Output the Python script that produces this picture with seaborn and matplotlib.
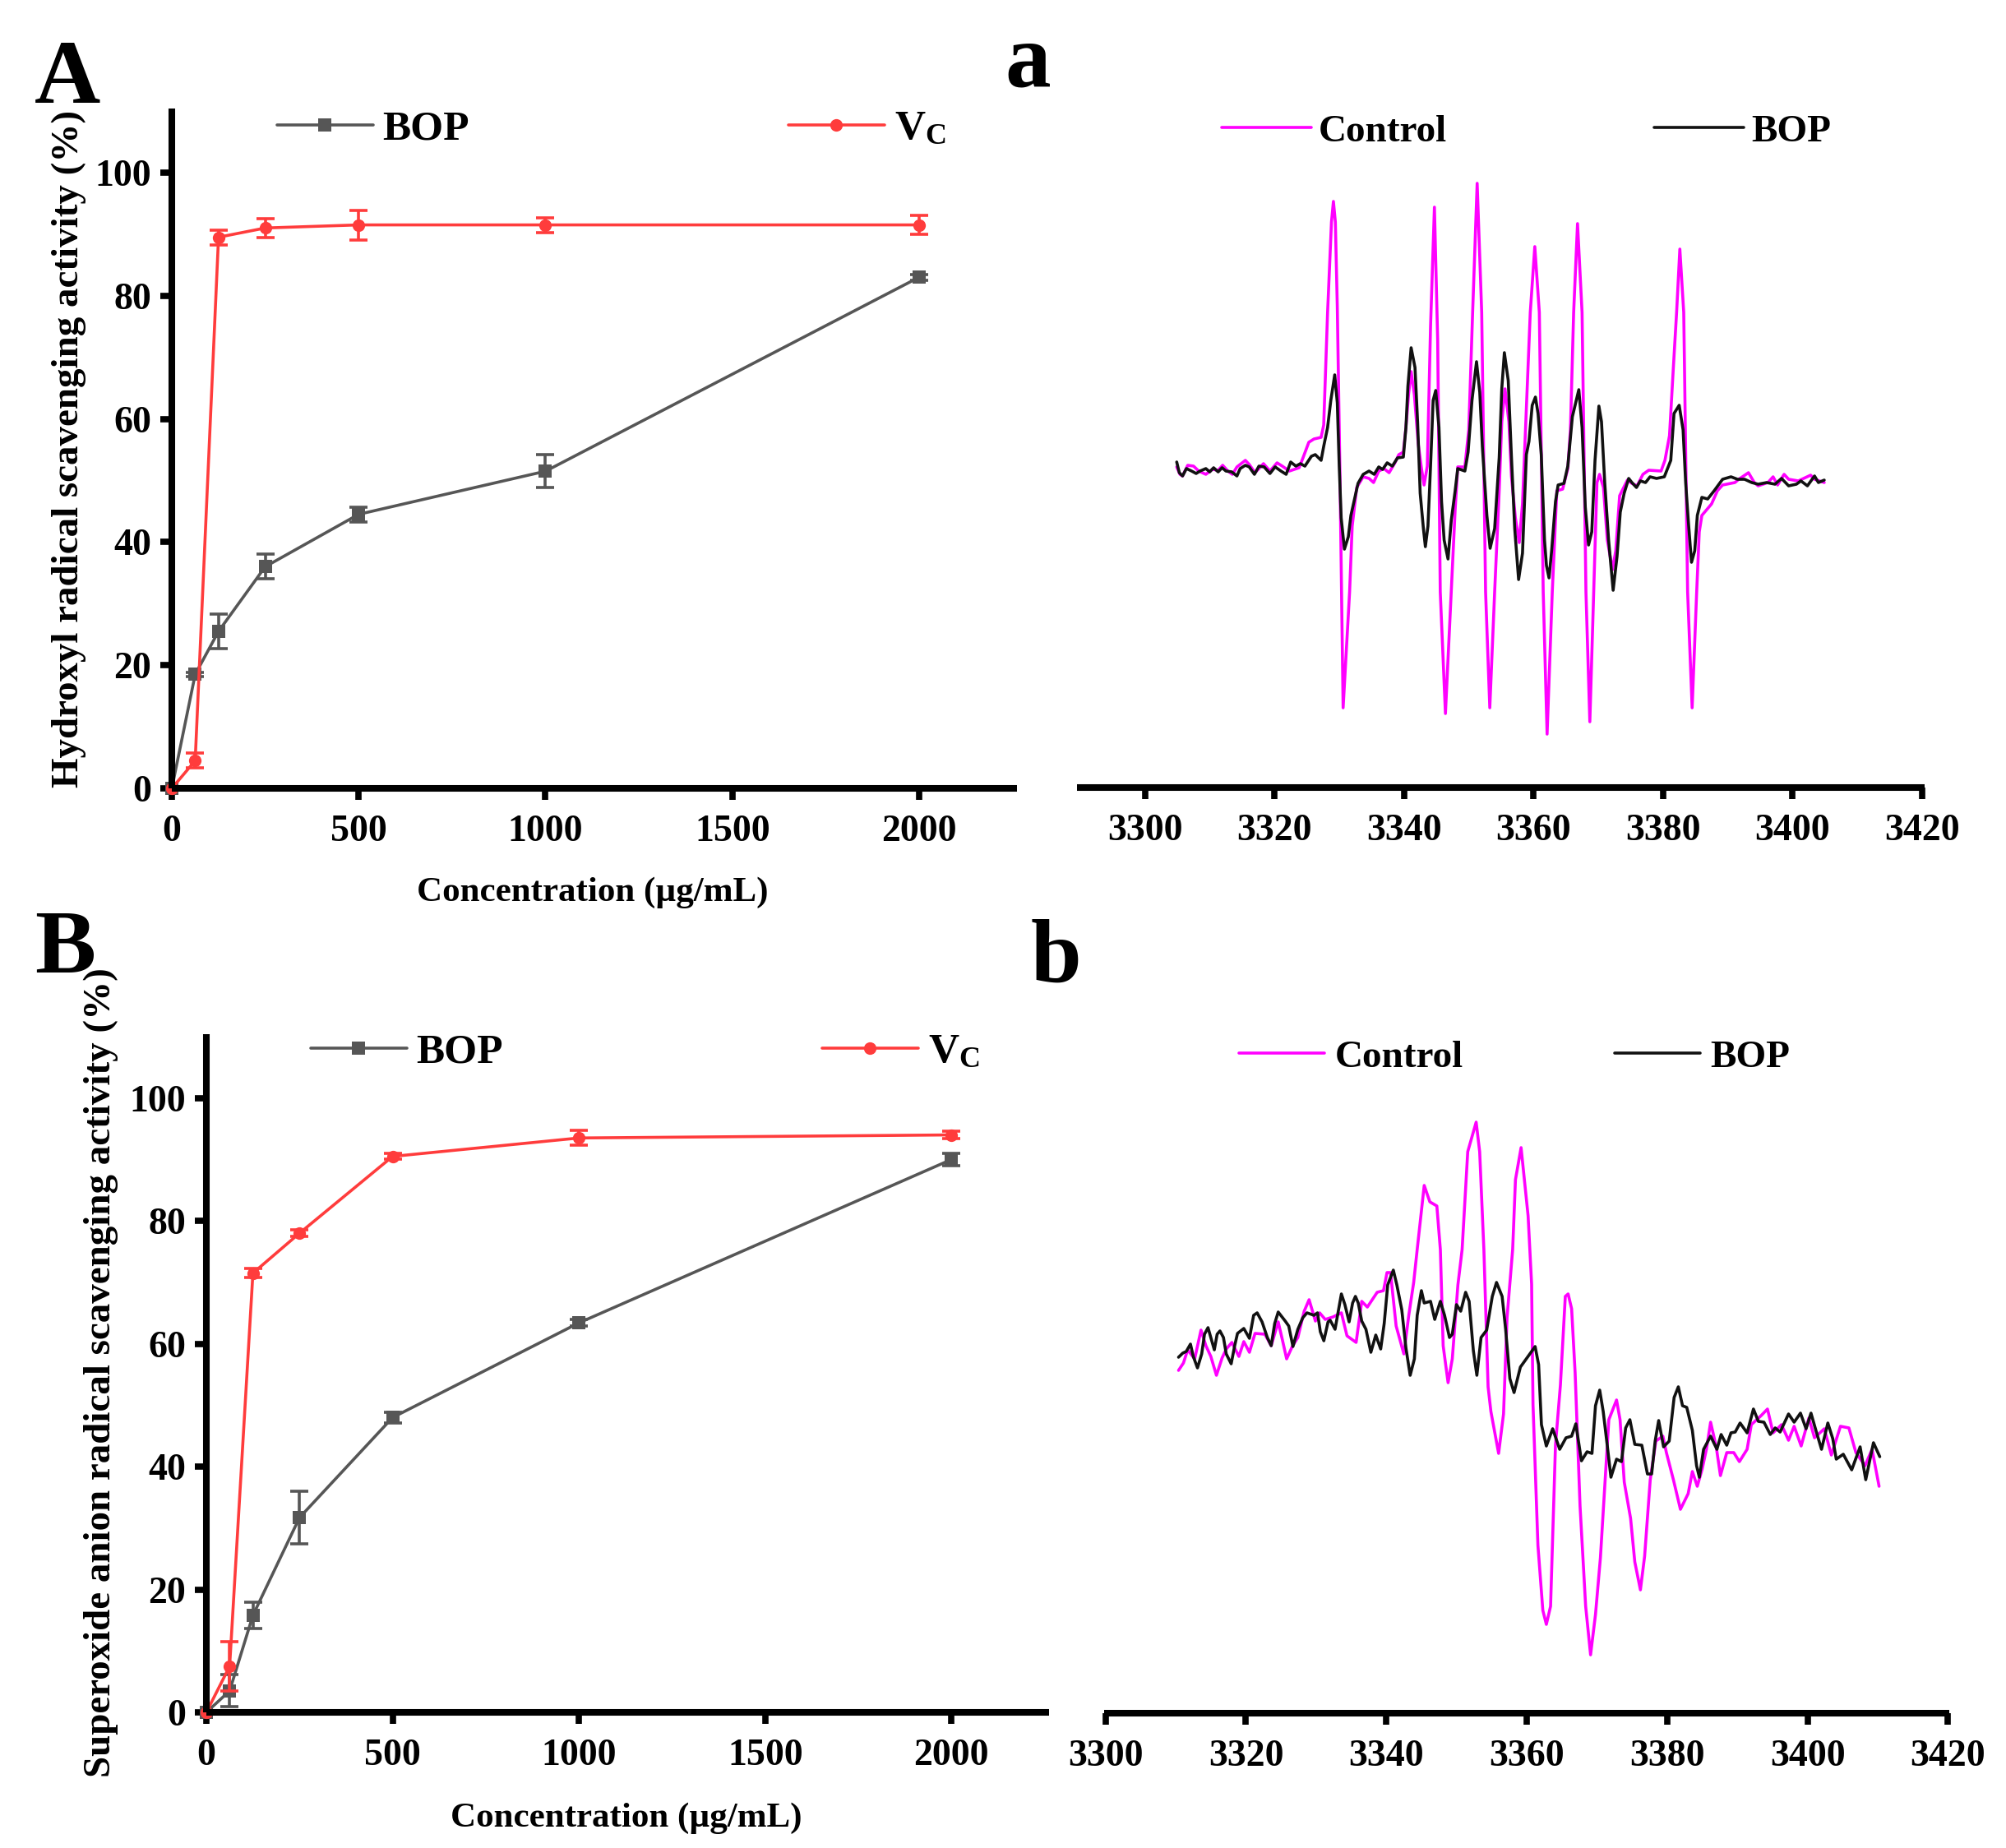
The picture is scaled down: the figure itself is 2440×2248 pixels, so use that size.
import matplotlib
matplotlib.use('Agg')
import matplotlib.pyplot as plt
import pandas as pd
import seaborn as sns

conc = [0, 62.5, 125, 250, 500, 1000, 2000]
a_bop = [0, 18.5, 25.5, 36, 44.5, 51.5, 83]
a_bop_err = [0, 0.3, 2.8, 2, 1.2, 2.7, 0.5]
a_vc = [0, 4.5, 89.5, 91, 91.5, 91.5, 91.5]
a_vc_err = [0, 1.2, 1.2, 1.5, 2.4, 1.2, 1.5]
b_bop = [0, 3.5, 15.8, 31.7, 48, 63.4, 90]
b_bop_err = [0, 2.6, 2.1, 4.3, 0.9, 0.5, 1]
b_vc = [0, 7.5, 71.5, 78, 90.5, 93.5, 94]
b_vc_err = [0, 4, 0.7, 0.5, 0.5, 1.2, 0.6]

# EPR spectrum a, field in G, intensity in arbitrary units
a_control_field = [
    3304.9, 3305.4, 3305.8, 3306.6, 3307.5, 3308.3, 3309.4, 3310.4, 3311.3, 3312.0, 3312.8, 3313.5, 3314.2,
    3315.5, 3316.1, 3317.0, 3318.3, 3319.3, 3320.4, 3321.2, 3322.3, 3323.8, 3324.4, 3325.3, 3326.1, 3327.2,
    3327.6, 3328.2, 3328.8, 3329.1, 3329.4, 3329.7, 3330.1, 3330.6, 3331.6, 3332.0, 3332.7, 3333.7, 3334.6,
    3335.3, 3336.1, 3336.9, 3337.7, 3338.6, 3339.2, 3339.9, 3340.3, 3340.7, 3341.1, 3341.6, 3342.2, 3342.7,
    3343.1, 3343.6, 3344.1, 3344.7, 3345.2, 3345.6, 3346.4, 3347.3, 3347.9, 3348.3, 3349.4, 3350.0, 3350.6,
    3351.3, 3352.0, 3352.6, 3353.25, 3354.0, 3354.7, 3355.1, 3355.6, 3356.2, 3356.6, 3357.2, 3357.8, 3358.3,
    3358.9, 3359.5, 3360.2, 3360.9, 3361.5, 3362.1, 3362.9, 3363.6, 3364.5, 3365.3, 3365.7, 3366.2, 3366.8,
    3367.5, 3368.1, 3368.7, 3369.3, 3369.8, 3370.2, 3370.8, 3371.4, 3372.2, 3372.7, 3373.3, 3374.5, 3375.2,
    3376.0, 3376.9, 3377.8, 3379.7, 3380.3, 3381.0, 3381.6, 3382.1, 3382.6, 3383.2, 3383.8, 3384.5, 3385.2,
    3385.6, 3386.0, 3387.5, 3388.4, 3389.2, 3391.1, 3391.7, 3393.2, 3394.1, 3394.7, 3396.2, 3397.0, 3397.7,
    3398.7, 3399.4, 3400.9, 3402.8, 3403.4, 3404.9]
a_control_int = [
    12, 3, 1, 14, 13, 7, 3, 9, 8, 14, 7, 3, 12,
    20, 15, 5, 16, 7, 17, 13, 7, 11, 23, 42, 46, 48,
    63, 200, 310, 335, 310, 207, 8, -281, -140, -60, -13, 0, -2,
    -7, 7, 10, 5, 17, 27, 30, 60, 100, 128, 100, 40, 10,
    -10, 13, 183, 328, 167, -140, -288, -140, -40, 12, 12, 57, 200,
    357, 200, -140, -281, -140, -17, 67, 107, 67, 0, -50, -80, -33,
    83, 200, 280, 200, -140, -313, -140, -17, -15, 10, 57, 200, 308,
    200, -140, -298, -140, -7, 3, -13, -77, -113, -90, -23, -4, -8,
    -11, 3, 8, 7, 20, 50, 133, 200, 277, 200, -140, -281, -140,
    -67, -47, -33, -17, -10, -7, -3, 5, -7, -11, -7, 0, -10,
    3, -3, -5, 2, -3, -7]
a_bop_field = [
    3304.9, 3305.3, 3305.8, 3306.4, 3307.2, 3307.9, 3308.5, 3309.4, 3310.0, 3310.6, 3311.3, 3311.9, 3312.5,
    3313.4, 3314.2, 3314.7, 3315.5, 3316.1, 3316.9, 3317.6, 3318.4, 3319.3, 3320.1, 3321.0, 3321.8, 3322.5,
    3323.3, 3324.0, 3324.7, 3325.7, 3326.3, 3327.2, 3327.6, 3328.2, 3328.7, 3329.3, 3329.7, 3330.0, 3330.3,
    3330.8, 3331.4, 3331.8, 3332.2, 3332.9, 3333.7, 3334.6, 3335.4, 3336.1, 3336.7, 3337.4, 3338.2, 3339.0,
    3339.9, 3340.3, 3340.6, 3341.1, 3341.7, 3342.1, 3342.5, 3343.0, 3343.3, 3343.7, 3344.1, 3344.5, 3344.9,
    3345.4, 3345.8, 3346.2, 3346.8, 3347.3, 3347.9, 3348.3, 3349.4, 3349.9, 3350.5, 3351.2, 3351.7, 3352.1,
    3352.8, 3353.3, 3354.0, 3354.7, 3355.1, 3355.5, 3356.1, 3356.6, 3357.1, 3357.7, 3358.3, 3358.9, 3359.3,
    3359.8, 3360.3, 3360.7, 3361.2, 3361.7, 3362.0, 3362.4, 3362.8, 3363.4, 3363.8, 3364.7, 3365.3, 3366.0,
    3367.0, 3367.5, 3368.0, 3368.5, 3369.0, 3369.5, 3370.1, 3370.5, 3371.0, 3371.6, 3372.3, 3372.9, 3373.4,
    3374.0, 3374.7, 3375.2, 3375.9, 3376.5, 3377.3, 3378.0, 3379.0, 3380.2, 3381.2, 3381.7, 3382.5, 3383.1,
    3383.5, 3383.9, 3384.4, 3384.9, 3385.3, 3386.0, 3386.9, 3387.9, 3389.2, 3390.5, 3391.5, 3392.6, 3393.7,
    3394.7, 3396.0, 3397.3, 3398.3, 3399.4, 3400.6, 3401.3, 3402.3, 3403.4, 3404.0, 3404.9]
a_bop_int = [
    18, 5, 1, 10, 7, 4, 7, 10, 6, 11, 6, 11, 7,
    6, 1, 10, 14, 12, 3, 13, 12, 4, 12, 7, 3, 18,
    13, 16, 13, 25, 27, 20, 37, 60, 93, 124, 90, 13, -50,
    -88, -73, -47, -33, -8, 3, 7, 3, 12, 9, 17, 13, 23,
    24, 60, 110, 157, 133, 67, -20, -63, -85, -60, 13, 93, 105,
    60, -30, -77, -100, -53, -17, 10, 7, 30, 93, 140, 103, 37,
    -47, -87, -63, 23, 107, 151, 117, 23, -63, -125, -93, 27, 43,
    87, 97, 77, 27, -77, -108, -123, -90, -30, -10, -8, 13, 73,
    106, 60, -37, -83, -67, 20, 86, 67, -7, -77, -138, -97, -43,
    -20, -2, -7, -13, -5, -7, 0, -2, 0, 20, 77, 87, 57,
    -7, -53, -104, -90, -47, -25, -27, -17, -3, 0, -3, -3, -7,
    -9, -7, -9, -2, -11, -9, -5, -11, 1, -7, -4]

# EPR spectrum b
b_control_field = [
    3310.4, 3311.1, 3311.7, 3312.7, 3313.6, 3314.3, 3315.0, 3315.8, 3316.6, 3317.2, 3318.0, 3319.0, 3319.7,
    3320.5, 3321.3, 3322.7, 3323.6, 3324.6, 3325.2, 3325.8, 3326.6, 3327.4, 3328.3, 3329.0, 3329.9, 3330.5,
    3331.3, 3332.4, 3333.6, 3334.4, 3335.7, 3336.5, 3337.3, 3338.7, 3339.6, 3340.1, 3340.6, 3341.4, 3342.5,
    3343.2, 3343.9, 3344.4, 3345.4, 3346.2, 3347.2, 3347.7, 3348.1, 3348.8, 3349.4, 3350.2, 3350.8, 3351.6,
    3352.8, 3353.3, 3353.9, 3354.5, 3354.9, 3356.0, 3356.7, 3357.2, 3358.0, 3358.4, 3359.2, 3360.2, 3360.7,
    3360.9, 3361.6, 3362.3, 3362.8, 3363.4, 3364.1, 3364.8, 3365.5, 3365.9, 3366.4, 3366.9, 3367.6, 3368.4,
    3369.1, 3369.8, 3370.5, 3371.7, 3372.8, 3373.3, 3373.9, 3374.8, 3375.4, 3376.2, 3376.8, 3377.6, 3378.4,
    3379.4, 3379.9, 3380.9, 3381.9, 3383.0, 3383.6, 3384.3, 3385.0, 3385.6, 3386.2, 3387.0, 3387.6, 3388.5,
    3389.5, 3390.3, 3391.4, 3392.0, 3393.4, 3394.3, 3395.1, 3396.3, 3397.3, 3398.1, 3399.1, 3400.2, 3401.0,
    3402.4, 3403.4, 3404.7, 3405.9, 3406.9, 3408.2, 3409.2, 3410.2]
b_control_int = [
    33, 42, 58, 47, 82, 63, 50, 27, 48, 59, 67, 50, 68,
    55, 78, 77, 63, 92, 70, 47, 62, 73, 105, 119, 93, 103,
    95, 98, 103, 75, 67, 117, 110, 128, 130, 152, 152, 87, 53,
    100, 140, 180, 258, 238, 233, 180, 63, 18, 47, 137, 180, 299,
    335, 299, 180, 13, -17, -68, -20, 97, 180, 265, 304, 221, 138,
    -9, -180, -259, -276, -254, -58, 15, 123, 126, 108, 30, -132, -254,
    -313, -264, -195, -27, -3, -27, -103, -147, -200, -234, -193, -100, -53,
    -47, -67, -100, -136, -117, -90, -108, -87, -63, -30, -60, -95, -67,
    -67, -78, -63, -33, -22, -14, -43, -33, -52, -35, -59, -25, -49,
    -38, -70, -35, -37, -67, -83, -63, -108]
b_bop_field = [
    3310.4, 3311.0, 3311.5, 3312.1, 3312.5, 3313.1, 3313.7, 3314.1, 3314.6, 3315.0, 3315.5, 3315.9, 3316.3,
    3316.8, 3317.2, 3317.9, 3318.4, 3318.8, 3319.7, 3320.5, 3321.1, 3321.6, 3322.3, 3323.05, 3323.6, 3324.1,
    3324.6, 3325.6, 3326.1, 3326.7, 3327.4, 3328.1, 3328.7, 3329.7, 3330.2, 3330.6, 3331.1, 3331.7, 3332.0,
    3332.7, 3333.2, 3333.6, 3334.1, 3334.7, 3335.2, 3335.6, 3336.0, 3336.5, 3337.1, 3337.8, 3338.5, 3339.2,
    3339.7, 3340.2, 3341.0, 3341.5, 3342.2, 3342.8, 3343.4, 3344.0, 3344.4, 3345.0, 3345.4, 3346.3, 3346.9,
    3347.7, 3348.3, 3349.0, 3349.4, 3350.0, 3350.6, 3351.3, 3351.8, 3352.4, 3352.9, 3353.5, 3354.3, 3355.1,
    3355.7, 3356.5, 3357.0, 3357.6, 3358.2, 3359.1, 3361.2, 3361.7, 3362.1, 3362.8, 3363.7, 3364.7, 3365.6,
    3366.4, 3367.0, 3367.8, 3368.6, 3369.3, 3369.8, 3370.4, 3370.9, 3371.5, 3372.0, 3372.8, 3373.5, 3374.1,
    3374.7, 3375.4, 3376.4, 3377.2, 3377.8, 3378.3, 3378.8, 3379.5, 3380.3, 3381.0, 3381.6, 3382.2, 3382.8,
    3383.6, 3384.2, 3384.6, 3385.2, 3386.2, 3387.1, 3387.7, 3388.5, 3389.1, 3389.7, 3390.4, 3391.4, 3392.3,
    3393.0, 3393.8, 3394.7, 3395.4, 3396.1, 3397.3, 3398.1, 3399.0, 3399.8, 3400.5, 3401.2, 3402.0, 3402.9,
    3403.6, 3404.1, 3405.1, 3406.3, 3407.5, 3408.3, 3409.4, 3410.3]
b_bop_int = [
    49, 54, 56, 65, 50, 36, 53, 77, 85, 73, 58, 77, 81,
    73, 53, 41, 63, 78, 84, 72, 100, 103, 92, 73, 63, 90,
    104, 93, 87, 62, 83, 97, 103, 100, 103, 80, 69, 92, 94,
    83, 107, 126, 113, 92, 115, 123, 115, 93, 83, 55, 76, 59,
    90, 137, 155, 137, 107, 60, 27, 47, 100, 130, 115, 117, 95,
    117, 100, 73, 77, 113, 105, 128, 117, 57, 27, 73, 82, 123,
    140, 123, 83, 23, 6, 37, 62, 40, -33, -59, -38, -63, -49,
    -47, -32, -77, -66, -68, -10, 9, -17, -60, -97, -75, -78, -37,
    -27, -57, -58, -93, -93, -53, -28, -60, -53, 0, 13, -10, -12,
    -40, -83, -97, -63, -47, -63, -45, -58, -43, -42, -31, -43, -14,
    -29, -30, -45, -37, -42, -20, -30, -19, -38, -19, -40, -63, -31,
    -50, -75, -69, -88, -60, -100, -55, -72]

conc_ticks = [0, 500, 1000, 1500, 2000]
activity_ticks = [0, 20, 40, 60, 80, 100]
field_ticks = [3300, 3320, 3340, 3360, 3380, 3400, 3420]

GRAY = '#565656'
RED = '#ff3c3c'
MAGENTA = '#ff00ff'
W, H = 2440, 2248

sns.set_theme(style='ticks')
plt.rcParams['font.family'] = ['Liberation Serif', 'DejaVu Sans']
plt.rcParams['font.weight'] = 'bold'
plt.rcParams['text.color'] = 'black'
plt.rcParams['axes.edgecolor'] = 'black'
plt.rcParams['xtick.color'] = 'black'
plt.rcParams['ytick.color'] = 'black'
plt.rcParams['xtick.labelcolor'] = 'black'
plt.rcParams['ytick.labelcolor'] = 'black'
plt.rcParams['mathtext.fontset'] = 'custom'
plt.rcParams['mathtext.bf'] = 'Liberation Serif:bold'
plt.rcParams['mathtext.rm'] = 'Liberation Serif:bold'

fig = plt.figure(figsize=(W / 100, H / 100), dpi=100)


def axes_px(left, top, right, bottom):
    ax = fig.add_axes([left / W, 1 - bottom / H, (right - left) / W, (bottom - top) / H])
    ax.patch.set_alpha(0)
    return ax


def text_px(x, y, s, **kw):
    fig.text(x / W, 1 - y / H, s, **kw)


def legend_px(ax, x, y, size, hlen, pad, gap):
    ax.legend(loc='center left', bbox_to_anchor=(x / W, 1 - y / H), bbox_transform=fig.transFigure,
              ncol=2, frameon=False, fontsize=size, handlelength=hlen, handletextpad=pad,
              columnspacing=gap, borderpad=0, borderaxespad=0)


def style_axis(ax, left_spine):
    sns.despine(ax=ax, left=not left_spine)
    for side in ['left', 'bottom']:
        ax.spines[side].set_linewidth(5.8)
        ax.spines[side].set_capstyle('butt')
    ax.tick_params(axis='x', length=10, width=5.5, labelsize=33, pad=13)
    ax.tick_params(axis='y', length=10, width=5.5, labelsize=33, pad=8)
    if not left_spine:
        ax.set_yticks([])
    for lab in ax.get_xticklabels() + ax.get_yticklabels():
        lab.set_fontweight('bold')


def activity_panel(ax, bop, bop_err, vc, vc_err):
    df = pd.DataFrame({'conc': conc, 'BOP': bop, 'VC': vc})
    sns.lineplot(data=df, x='conc', y='BOP', ax=ax, color=GRAY, lw=2.6, marker='s', ms=11, mew=0,
                 estimator=None, label='BOP', clip_on=False)
    ax.errorbar(conc[1:], bop[1:], yerr=bop_err[1:], fmt='none', ecolor=GRAY, elinewidth=2.6, capsize=8, capthick=2.6)
    sns.lineplot(data=df, x='conc', y='VC', ax=ax, color=RED, lw=2.6, marker='o', ms=11, mew=0,
                 estimator=None, label=r'$\mathbf{V_C}$', clip_on=False)
    ax.errorbar(conc[1:], vc[1:], yerr=vc_err[1:], fmt='none', ecolor=RED, elinewidth=2.6, capsize=8, capthick=2.6)
    ax.set_xlim(0, 2262)
    ax.set_ylim(0, 110.4)
    ax.set_xticks(conc_ticks)
    ax.set_yticks(activity_ticks)
    ax.set_xlabel('')
    ax.set_ylabel('')
    style_axis(ax, True)


def spectrum_panel(ax, c_field, c_int, b_field, b_int, xlim, ylim):
    sns.lineplot(x=c_field, y=c_int, ax=ax, color=MAGENTA, lw=2.6, estimator=None, label='Control',
                 solid_joinstyle='round')
    sns.lineplot(x=b_field, y=b_int, ax=ax, color='#111111', lw=2.6, estimator=None, label='BOP',
                 solid_joinstyle='round')
    ax.set_xlim(*xlim)
    ax.set_ylim(*ylim)
    ax.set_xticks(field_ticks)
    style_axis(ax, False)


# Panel A
ax_a = axes_px(209, 132, 1237, 959)
activity_panel(ax_a, a_bop, a_bop_err, a_vc, a_vc_err)
legend_px(ax_a, 337, 157, 37, 2.27, 0.23, 7.55)

# Panel B
ax_b = axes_px(251, 1258, 1276, 2083)
activity_panel(ax_b, b_bop, b_bop_err, b_vc, b_vc_err)
legend_px(ax_b, 378, 1280, 37, 2.27, 0.23, 7.55)

# Panel a
ax_c = axes_px(1310, 130, 2341, 958)
spectrum_panel(ax_c, a_control_field, a_control_int, a_bop_field, a_bop_int, (3289.5, 3420.4), (-378, 450))
legend_px(ax_c, 1486, 160, 34, 2.3, 0.19, 5.35)

# Panel b
ax_d = axes_px(1343, 1250, 2371, 2084)
spectrum_panel(ax_d, b_control_field, b_control_int, b_bop_field, b_bop_int, (3299.8, 3420.2), (-384, 450))
legend_px(ax_d, 1507, 1286, 34, 2.2, 0.27, 3.9)

# Axis titles and panel letters
label_kw = dict(fontsize=31, fontweight='bold', ha='center', va='center')
text_px(721, 1086, 'Concentration (µg/mL)', **label_kw)
text_px(762, 2212, 'Concentration (µg/mL)', **label_kw)
ylabel_kw = dict(label_kw, fontsize=33.8, rotation=90)
text_px(84, 546, 'Hydroxyl radical scavenging activity (%)', **ylabel_kw)
text_px(123, 1670, 'Superoxide anion radical scavenging activity (%)', **ylabel_kw)

letter_kw = dict(fontsize=80, fontweight='bold', ha='left', va='baseline')
text_px(42, 125, 'A', **letter_kw)
text_px(1222, 104, 'a', **letter_kw)
text_px(42, 1183, 'B', **letter_kw)
text_px(1254, 1195, 'b', **letter_kw)

fig.savefig('out.png', dpi=100, facecolor='white')
